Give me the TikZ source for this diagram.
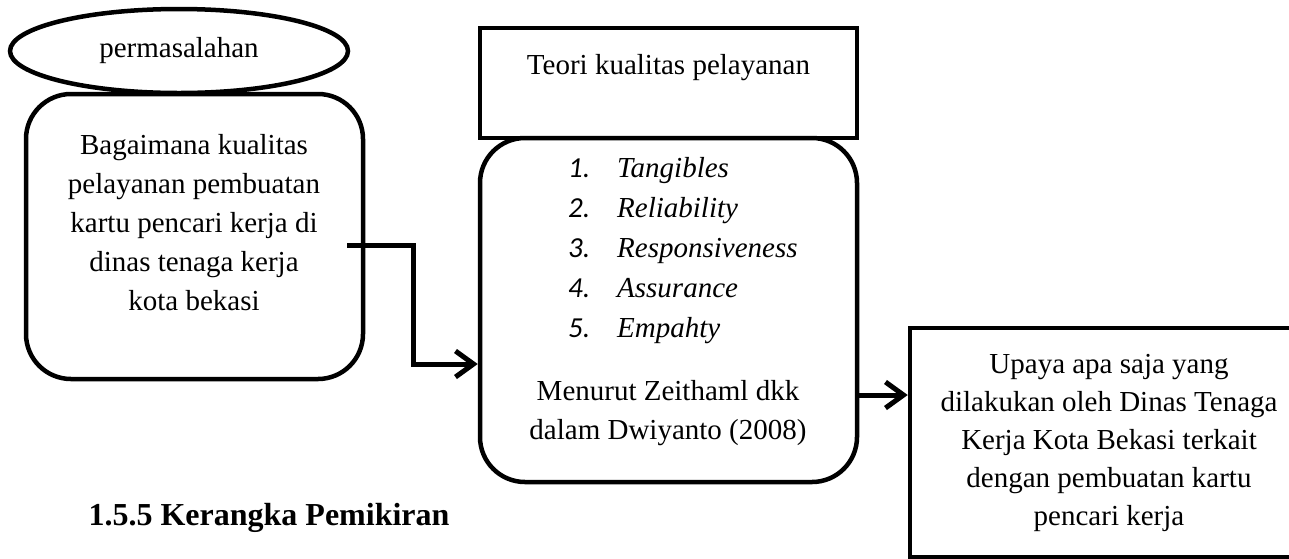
\documentclass[tikz,border=0pt]{standalone}
\usepackage{fontspec}
\setmainfont{Liberation Serif}
\newfontfamily\numfont{Carlito}
\usetikzlibrary{shapes.geometric,arrows.meta}
\tikzset{
  box/.style={draw,line width=4.5pt,inner sep=0pt},
  roundbox/.style={box,rounded corners=45pt},
  link/.style={line width=5pt,-{Straight Barb[length=18pt,width=26pt]}}
}
\begin{document}
\begin{tikzpicture}[x=1pt,y=-1pt,font=\fontsize{29}{39}\selectfont]
  \useasboundingbox (0,0) rectangle (1289,558);
  \clip (0,0) rectangle (1289,558);
  % left side
  \node[ellipse,box,minimum width=338pt,minimum height=84pt] (problem) at (179,51) {permasalahan};
  \node[roundbox,minimum width=337pt,minimum height=285pt] (question) at (194.5,236.5) {};
  \node[align=center] (questiontext) at (194,222.5) {Bagaimana kualitas\\pelayanan pembuatan\\kartu pencari kerja di\\dinas tenaga kerja\\kota bekasi};
  % middle
  \node[box,minimum width=377pt,minimum height=110pt] (theory) at (668.5,83) {};
  \node (theorytext) at (668.5,68) {Teori kualitas pelayanan};
  \node[roundbox,minimum width=377pt,minimum height=344pt] (items) at (668.5,310) {};
  \foreach \i/\t in {1/Tangibles,2/Reliability,3/Responsiveness,4/Assurance,5/Empahty}{
    \node[anchor=base west,inner sep=0pt] (num\i) at (568,137+40*\i) {\numfont\itshape\i.};
    \node[anchor=base west,inner sep=0pt] (item\i) at (617,137+40*\i) {\itshape\t};
  }
  \node[align=center] (source) at (668,413) {Menurut Zeithaml dkk\\dalam Dwiyanto (2008)};
  % right
  \node[box,align=center,minimum width=398pt,minimum height=229pt,font=\fontsize{29}{38}\selectfont] (effort) at (1109,442.5) {Upaya apa saja yang\\dilakukan oleh Dinas Tenaga\\Kerja Kota Bekasi terkait\\dengan pembuatan kartu\\pencari kerja};
  \node[font=\fontsize{32}{38}\selectfont\bfseries] (title) at (269,518) {1.5.5 Kerangka Pemikiran};
  % connectors
  \coordinate (qout) at (347,245);
  \coordinate (out) at ([yshift=-85pt]items.east);
  \draw[link] (qout) -- ++(66,0) |- ([yshift=-54pt]items.west);
  \draw[link] (out) -- (out -| effort.west);
\end{tikzpicture}
\end{document}
